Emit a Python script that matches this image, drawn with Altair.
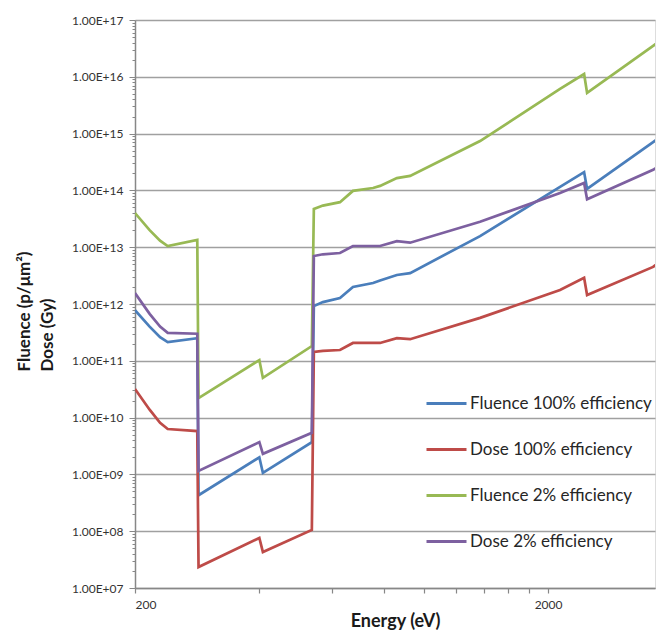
import altair as alt
import pandas as pd

energy = [200, 217, 230, 240, 283, 285, 400, 408, 536, 542, 570, 627, 674, 754,
          784, 861, 927, 1369, 2138, 2445, 2486, 3592, 3800]
fluence_100 = [7.8e11, 4.0e11, 2.6e11, 2.14e11, 2.5e11, 4.3e8, 2.0e9, 1.06e9, 3.7e9,
               9.2e11, 1.08e12, 1.27e12, 2.0e12, 2.34e12, 2.6e12, 3.24e12, 3.5e12,
               1.57e13, 1.15e14, 2.1e14, 1.06e14, 7.1e14, 9.4e14]
dose_100 = [3.2e10, 1.38e10, 8.1e9, 6.3e9, 5.8e9, 2.34e7, 7.6e7, 4.3e7, 1.05e8,
            1.43e11, 1.5e11, 1.55e11, 2.06e11, 2.06e11, 2.06e11, 2.5e11, 2.4e11,
            5.7e11, 1.76e12, 2.9e12, 1.44e12, 4.5e12, 6.2e12]
fluence_2 = [4.0e13, 2.0e13, 1.3e13, 1.05e13, 1.34e13, 2.2e10, 1.03e11, 5.0e10, 1.82e11,
             4.7e13, 5.4e13, 6.2e13, 9.8e13, 1.1e14, 1.2e14, 1.65e14, 1.8e14,
             7.4e14, 6.1e15, 1.12e16, 5.2e15, 3.5e16, 4.7e16]
dose_2 = [1.56e12, 6.7e11, 4.0e11, 3.1e11, 3.0e11, 1.15e9, 3.7e9, 2.3e9, 5.4e9,
          7.0e12, 7.5e12, 7.9e12, 1.05e13, 1.05e13, 1.05e13, 1.28e13, 1.2e13,
          2.8e13, 9.0e13, 1.35e14, 7.0e13, 2.3e14, 3.0e14]

series_names = ["Fluence 100% efficiency", "Dose 100% efficiency",
                "Fluence 2% efficiency", "Dose 2% efficiency"]
series_values = [fluence_100, dose_100, fluence_2, dose_2]
colors = ["#4a7ebb", "#be4b48", "#98b954", "#7d60a0"]

x_ticks = [200, 400, 600, 800, 1000, 1200, 1400, 1600, 1800, 2000]
y_ticks = [float(m) * 10.0 ** k for k in range(7, 17) for m in range(1, 10)] + [1e17]

rows = []
for name, vals in zip(series_names, series_values):
    for e, v in zip(energy, vals):
        rows.append({"energy": e, "value": v, "series": name})
df = pd.DataFrame(rows)

FONT = "Lato"
decade = "abs(log(datum.value)/LN10 - round(log(datum.value)/LN10)) < 0.01"
ylabel = ("(" + decade + ") ? ('1.00E+' + (round(log(datum.value)/LN10) < 10 ? '0' : '') "
          "+ round(log(datum.value)/LN10)) : ''")

chart = alt.Chart(df).mark_line(strokeWidth=2.7, clip=True).encode(
    x=alt.X("energy:Q",
            scale=alt.Scale(type="log", domain=[200, 3630], nice=False),
            axis=alt.Axis(values=x_ticks, grid=False, title="Energy (eV)",
                          labelExpr="(datum.value == 200 || datum.value == 2000) ? datum.value + '' : ''",
                          labelFont=FONT, labelFontSize=12, labelColor="#333333",
                          labelPadding=6, tickSize=5, tickColor="#878787", tickWidth=1.2,
                          domainColor="#878787", domainWidth=1.5, labelOverlap=False,
                          titleFont=FONT, titleFontSize=18, titleFontWeight="bold",
                          titleColor="#1a1a1a", titleBaseline="alphabetic", titleY=38)),
    y=alt.Y("value:Q",
            scale=alt.Scale(type="log", domain=[1e7, 1e17], nice=False),
            axis=alt.Axis(values=y_ticks, labelExpr=ylabel, labelOverlap=False,
                          labelFont=FONT, labelFontSize=12, labelColor="#333333",
                          labelPadding=6,
                          tickSize={"condition": {"test": decade, "value": 6}, "value": 3},
                          tickColor="#878787", tickWidth=1,
                          gridOpacity={"condition": {"test": decade, "value": 1}, "value": 0},
                          gridColor="#a0a0a0", gridWidth=1.5,
                          domainColor="#878787", domainWidth=1.5,
                          title=["Fluence (p/\u03bcm\u00b2)", "Dose (Gy)"],
                          titleFont=FONT, titleFontSize=17, titleFontWeight="bold",
                          titleColor="#1a1a1a", titleAngle=270, titleAlign="left",
                          titleBaseline="top", titleX=-119, titleY=351,
                          titleLineHeight=23)),
    color=alt.Color("series:N",
                    scale=alt.Scale(domain=series_names, range=colors),
                    legend=alt.Legend(orient="none", legendX=290, legendY=362, title=None,
                                      symbolType="stroke", symbolSize=1600,
                                      symbolStrokeWidth=3, labelFont=FONT,
                                      labelFontSize=17, labelColor="#262626",
                                      rowPadding=16, padding=0, labelOffset=2,
                                      labelLimit=400)),
).properties(
    width=520, height=568,
    autosize=alt.AutoSizeParams(type="none"),
    padding={"left": 127, "top": 12, "right": 1, "bottom": 42},
).configure_view(stroke=None).configure(background="white")

chart.save("out.html", embed_options={"renderer": "svg", "actions": False})
